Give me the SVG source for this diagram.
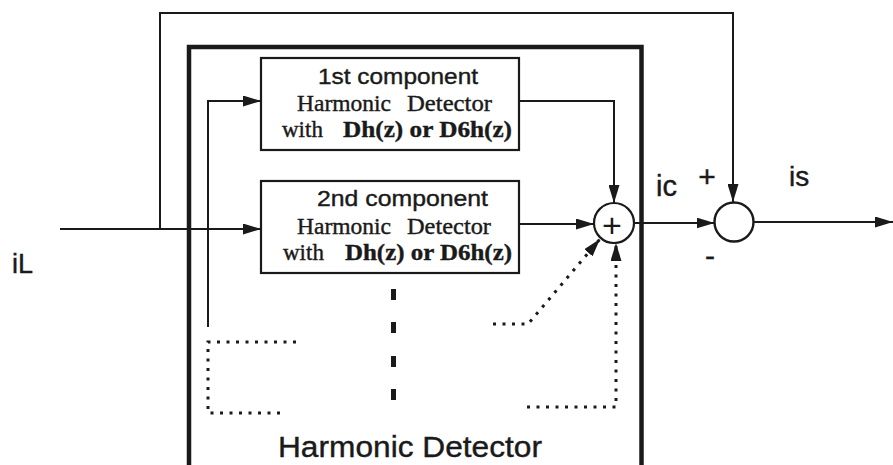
<svg xmlns="http://www.w3.org/2000/svg" width="893" height="465" viewBox="0 0 893 465">
<style>
.ln{fill:none;stroke:#1a1a1a;stroke-width:2}
.dot{fill:none;stroke:#1a1a1a;stroke-width:3;stroke-dasharray:3 6.5}
.box{fill:#fff;stroke:#1a1a1a;stroke-width:2.2}
.sans{font-family:"Liberation Sans",Arial,sans-serif;fill:#1a1a1a;stroke:#1a1a1a;stroke-width:0.4}
.serif{font-family:"Liberation Serif","Times New Roman",serif;fill:#1a1a1a;stroke:#1a1a1a;stroke-width:0.4}
</style>
<defs>
<marker id="ah" markerWidth="18" markerHeight="11" refX="18" refY="5.5" orient="auto" markerUnits="userSpaceOnUse">
<path d="M0,0 L18,5.5 L0,11 Z" fill="#1a1a1a"/>
</marker>
</defs>
<rect width="893" height="465" fill="#fff"/>
<g id="outer-box">
<rect x="189" y="47" width="452.5" height="422" fill="none" stroke="#1a1a1a" stroke-width="4.5"/>
<text class="sans" x="278" y="457" font-size="29" textLength="264" lengthAdjust="spacingAndGlyphs">Harmonic Detector</text>
</g>
<g id="box1">
<rect class="box" x="261" y="58" width="258" height="92"/>
<text class="sans" x="318" y="84" font-size="22" textLength="160" lengthAdjust="spacingAndGlyphs">1st component</text>
<text class="serif" y="111" font-size="23"><tspan x="297" textLength="94" lengthAdjust="spacingAndGlyphs">Harmonic</tspan><tspan x="407" textLength="85" lengthAdjust="spacingAndGlyphs">Detector</tspan></text>
<text class="serif" y="137" font-size="23"><tspan x="282">with</tspan><tspan x="343" font-weight="bold" font-size="24" textLength="169" lengthAdjust="spacingAndGlyphs">Dh(z) or D6h(z)</tspan></text>
</g>
<g id="box2">
<rect class="box" x="261" y="181" width="258" height="92"/>
<text class="sans" x="317" y="206" font-size="22" textLength="171" lengthAdjust="spacingAndGlyphs">2nd component</text>
<text class="serif" y="234" font-size="23"><tspan x="297" textLength="94" lengthAdjust="spacingAndGlyphs">Harmonic</tspan><tspan x="407" textLength="84" lengthAdjust="spacingAndGlyphs">Detector</tspan></text>
<text class="serif" y="260" font-size="23"><tspan x="283">with</tspan><tspan x="345" font-weight="bold" font-size="24" textLength="167" lengthAdjust="spacingAndGlyphs">Dh(z) or D6h(z)</tspan></text>
</g>
<g id="sum1">
<circle cx="614" cy="223" r="20" fill="#fff" stroke="#1a1a1a" stroke-width="2.2"/>
<text x="612" y="237" font-family="Liberation Sans,Arial,sans-serif" font-size="34" text-anchor="middle" fill="#1a1a1a">+</text>
</g>
<g id="sum2">
<circle cx="734" cy="222" r="19.5" fill="#fff" stroke="#1a1a1a" stroke-width="2.4"/>
</g>
<g id="ellipsis">
<rect x="391" y="289" width="5" height="11" fill="#1a1a1a"/>
<rect x="391" y="322" width="5" height="11" fill="#1a1a1a"/>
<rect x="391" y="356" width="5" height="11" fill="#1a1a1a"/>
<rect x="391" y="389" width="5" height="11" fill="#1a1a1a"/>
</g>
<g id="connectors">
<path class="ln" d="M60,229 H261" marker-end="url(#ah)"/>
<path class="ln" d="M160,229 V13 H733 V202" marker-end="url(#ah)"/>
<path class="ln" d="M208,327 V101 H261" marker-end="url(#ah)"/>
<path class="ln" d="M519,101 H614 V203" marker-end="url(#ah)"/>
<path class="ln" d="M519,224 H594" marker-end="url(#ah)"/>
<path class="ln" d="M634,223 H714.5" marker-end="url(#ah)"/>
<path class="ln" d="M754,222 H893" marker-end="url(#ah)"/>
<path class="dot" d="M296,342 H208 V413 H286"/>
<path class="dot" d="M493,324 H528 L600,239" marker-end="url(#ah)"/>
<path class="dot" d="M527,407 H616 V243" marker-end="url(#ah)"/>
</g>
<g id="labels">
<text class="sans" x="12" y="273" font-size="27">iL</text>
<text class="sans" x="656" y="196" font-size="29">ic</text>
<text class="sans" x="789" y="186" font-size="28">is</text>
<text class="sans" x="707" y="187" font-size="30" text-anchor="middle">+</text>
<text class="sans" x="710" y="266" font-size="30" text-anchor="middle">-</text>
</g>
</svg>
